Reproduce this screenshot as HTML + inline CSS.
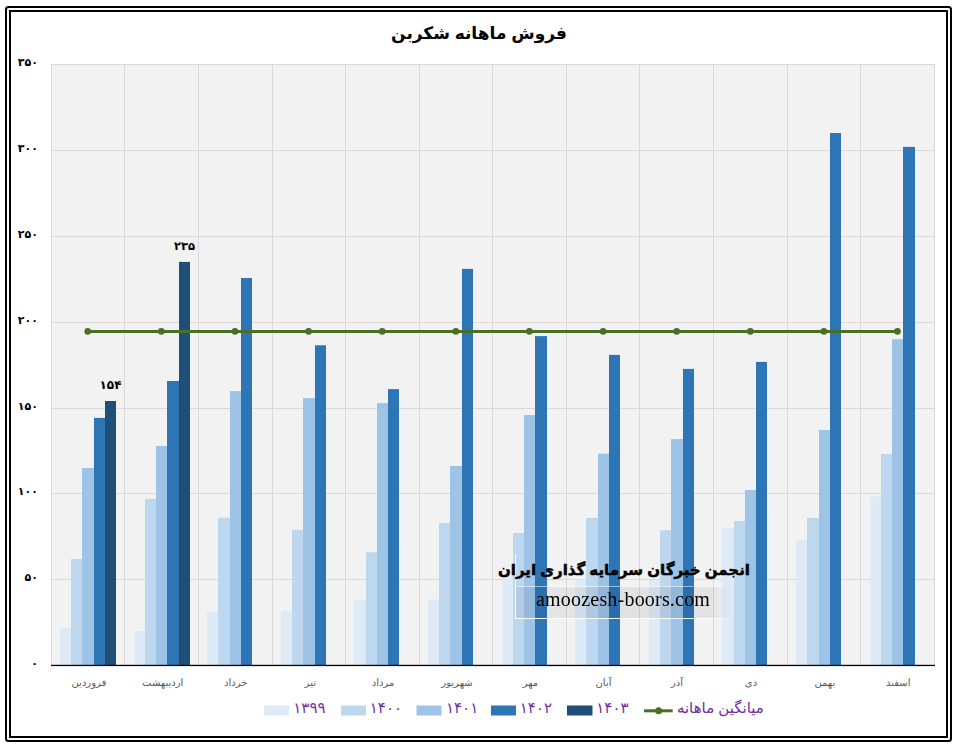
<!DOCTYPE html>
<html lang="fa"><head><meta charset="utf-8"><title>فروش ماهانه شکربن</title>
<style>html,body{margin:0;padding:0;background:#fff}body{width:955px;height:747px;overflow:hidden;font-family:"Liberation Sans",sans-serif}svg{display:block}body{position:relative}.wm{position:absolute;left:535.8px;top:585px;font-size:20px;line-height:28px;letter-spacing:0.2px;color:#000;white-space:nowrap;will-change:transform}.lat{font-family:"Liberation Serif",serif}svg text{font-family:"Liberation Sans","DejaVu Sans",sans-serif}</style></head>
<body>
<svg width="955" height="747" viewBox="0 0 955 747" role="img" aria-label="فروش ماهانه شکربن">
<rect width="955" height="747" fill="#fff"/>
<rect x="6" y="7" width="945" height="734" rx="2.5" fill="none" stroke="#000" stroke-width="2"/>
<rect x="10" y="11" width="937" height="726" fill="none" stroke="#000" stroke-width="2"/>
<g aria-label="فروش ماهانه شکربن"><text x="479" y="38.7" font-size="17" font-weight="bold" fill="#000" text-anchor="middle">فروش ماهانه شکربن</text></g>
<rect x="51" y="64" width="884" height="601" fill="#F2F2F2"/>
<path d="M51 579.5H935M51 493.5H935M51 408.5H935M51 322.5H935M51 236.5H935M51 150.5H935M51 64.5H935M51.5 64V665M124.5 64V665M198.5 64V665M272.5 64V665M345.5 64V665M419.5 64V665M492.5 64V665M566.5 64V665M639.5 64V665M713.5 64V665M787.5 64V665M860.5 64V665M934.5 64V665" stroke="#D9D9D9" stroke-width="1" fill="none"/>
<rect x="60" y="627.9" width="11" height="37.1" fill="#DEEBF7"/><rect x="71" y="559.0" width="11" height="106.0" fill="#BDD7EE"/><rect x="82" y="468.0" width="12" height="197.0" fill="#9DC3E6"/><rect x="94" y="417.9" width="11" height="247.1" fill="#2E75B6"/><rect x="105" y="401.0" width="11" height="264.0" fill="#1F4E79"/>
<rect x="134" y="631.0" width="11" height="34.0" fill="#DEEBF7"/><rect x="145" y="498.9" width="11" height="166.1" fill="#BDD7EE"/><rect x="156" y="445.9" width="11" height="219.1" fill="#9DC3E6"/><rect x="167" y="381.0" width="12" height="284.0" fill="#2E75B6"/><rect x="179" y="261.9" width="11" height="403.1" fill="#1F4E79"/>
<rect x="207" y="611.6" width="11" height="53.4" fill="#DEEBF7"/><rect x="218" y="517.7" width="12" height="147.3" fill="#BDD7EE"/><rect x="230" y="391.1" width="11" height="273.9" fill="#9DC3E6"/><rect x="241" y="278.0" width="11" height="387.0" fill="#2E75B6"/>
<rect x="281" y="611.0" width="11" height="54.0" fill="#DEEBF7"/><rect x="292" y="529.8" width="11" height="135.2" fill="#BDD7EE"/><rect x="303" y="398.1" width="12" height="266.9" fill="#9DC3E6"/><rect x="315" y="345.3" width="11" height="319.7" fill="#2E75B6"/>
<rect x="354" y="599.7" width="12" height="65.3" fill="#DEEBF7"/><rect x="366" y="552.2" width="11" height="112.8" fill="#BDD7EE"/><rect x="377" y="403.1" width="11" height="261.9" fill="#9DC3E6"/><rect x="388" y="389.1" width="11" height="275.9" fill="#2E75B6"/>
<rect x="428" y="599.7" width="11" height="65.3" fill="#DEEBF7"/><rect x="439" y="523.0" width="11" height="142.0" fill="#BDD7EE"/><rect x="450" y="466.0" width="12" height="199.0" fill="#9DC3E6"/><rect x="462" y="268.9" width="11" height="396.1" fill="#2E75B6"/>
<rect x="502" y="575.1" width="11" height="89.9" fill="#DEEBF7"/><rect x="513" y="533.0" width="11" height="132.0" fill="#BDD7EE"/><rect x="524" y="415.0" width="11" height="250.0" fill="#9DC3E6"/><rect x="535" y="336.1" width="12" height="328.9" fill="#2E75B6"/>
<rect x="575" y="579.6" width="11" height="85.4" fill="#DEEBF7"/><rect x="586" y="517.9" width="12" height="147.1" fill="#BDD7EE"/><rect x="598" y="453.7" width="11" height="211.3" fill="#9DC3E6"/><rect x="609" y="354.9" width="11" height="310.1" fill="#2E75B6"/>
<rect x="649" y="579.9" width="11" height="85.1" fill="#DEEBF7"/><rect x="660" y="530.2" width="11" height="134.8" fill="#BDD7EE"/><rect x="671" y="439.1" width="12" height="225.9" fill="#9DC3E6"/><rect x="683" y="368.9" width="11" height="296.1" fill="#2E75B6"/>
<rect x="722" y="527.8" width="12" height="137.2" fill="#DEEBF7"/><rect x="734" y="521.0" width="11" height="144.0" fill="#BDD7EE"/><rect x="745" y="490.0" width="11" height="175.0" fill="#9DC3E6"/><rect x="756" y="361.9" width="11" height="303.1" fill="#2E75B6"/>
<rect x="796" y="539.9" width="11" height="125.1" fill="#DEEBF7"/><rect x="807" y="518.0" width="12" height="147.0" fill="#BDD7EE"/><rect x="819" y="430.1" width="11" height="234.9" fill="#9DC3E6"/><rect x="830" y="133.0" width="11" height="532.0" fill="#2E75B6"/>
<rect x="870" y="496.4" width="11" height="168.6" fill="#DEEBF7"/><rect x="881" y="454.0" width="11" height="211.0" fill="#BDD7EE"/><rect x="892" y="339.2" width="11" height="325.8" fill="#9DC3E6"/><rect x="903" y="146.9" width="12" height="518.1" fill="#2E75B6"/>
<rect x="51" y="664.8" width="884" height="1.3" fill="#000"/>
<path d="M87.7 331.4H897.5" stroke="#4A7028" stroke-width="3" fill="none"/>
<g fill="#4A7028"><circle cx="87.7" cy="331.4" r="3.3"/><circle cx="161.3" cy="331.4" r="3.3"/><circle cx="235.0" cy="331.4" r="3.3"/><circle cx="308.6" cy="331.4" r="3.3"/><circle cx="382.2" cy="331.4" r="3.3"/><circle cx="455.8" cy="331.4" r="3.3"/><circle cx="529.4" cy="331.4" r="3.3"/><circle cx="603.1" cy="331.4" r="3.3"/><circle cx="676.7" cy="331.4" r="3.3"/><circle cx="750.3" cy="331.4" r="3.3"/><circle cx="823.9" cy="331.4" r="3.3"/><circle cx="897.5" cy="331.4" r="3.3"/></g>
<g fill="#000" font-size="11" font-weight="bold" text-anchor="end"><text x="38" y="667">۰</text><text x="38" y="581">۵۰</text><text x="38" y="495">۱۰۰</text><text x="38" y="410">۱۵۰</text><text x="38" y="324">۲۰۰</text><text x="38" y="238">۲۵۰</text><text x="38" y="152">۳۰۰</text><text x="38" y="66">۳۵۰</text></g>
<g fill="#000" font-weight="bold" text-anchor="middle"><text x="110.5" y="389.3" font-size="12">۱۵۴</text><text x="184.5" y="250.3" font-size="11.5">۲۳۵</text></g>
<g fill="#595959" font-size="10" text-anchor="middle"><text x="88.9" y="686">فروردین</text><text x="162.7" y="686">اردیبهشت</text><text x="235.7" y="686">خرداد</text><text x="310.3" y="686">تیر</text><text x="383.1" y="686">مرداد</text><text x="457" y="686">شهریور</text><text x="530.4" y="686">مهر</text><text x="603.5" y="686">آبان</text><text x="677" y="686">آذر</text><text x="751" y="686">دی</text><text x="824.8" y="686">بهمن</text><text x="898.2" y="686">اسفند</text></g>
<rect x="264" y="705.5" width="25" height="10" fill="#DEEBF7"/><rect x="341" y="705.5" width="25" height="10" fill="#BDD7EE"/><rect x="416.5" y="705.5" width="25.0" height="10" fill="#9DC3E6"/><rect x="491" y="705.5" width="25" height="10" fill="#2E75B6"/><rect x="567" y="705.5" width="25.5" height="10" fill="#1F4E79"/>
<g fill="#7030A0" font-size="15"><text x="293.3" y="713.3">۱۳۹۹</text><text x="369.8" y="713.3">۱۴۰۰</text><text x="446" y="713.3">۱۴۰۱</text><text x="519.8" y="713.3">۱۴۰۲</text><text x="596.3" y="713.3">۱۴۰۳</text><g aria-label="میانگین ماهانه"><text x="720.4" y="713.4" text-anchor="middle">میانگین ماهانه</text></g></g>
<path d="M644 710.8H672.7" stroke="#4A7028" stroke-width="3"/><circle cx="658.6" cy="710.8" r="3.5" fill="#4A7028"/>
<defs><linearGradient id="wg" x1="0" x2="1" y1="0" y2="0"><stop offset="0" stop-color="#000" stop-opacity="0.05"/><stop offset="0.5" stop-color="#000" stop-opacity="0.07"/><stop offset="0.9" stop-color="#000" stop-opacity="0.06"/><stop offset="1" stop-color="#000" stop-opacity="0"/></linearGradient><linearGradient id="wl" x1="0" x2="1"><stop offset="0" stop-color="#fff" stop-opacity="1"/><stop offset="0.9" stop-color="#fff" stop-opacity="0.9"/><stop offset="1" stop-color="#fff" stop-opacity="0"/></linearGradient></defs>
<rect x="516" y="587" width="216" height="31" fill="url(#wg)"/>
<rect x="515" y="554.5" width="1" height="64" fill="#fff"/><rect x="515" y="618" width="218" height="1" fill="url(#wl)"/><rect x="516" y="586" width="212" height="1" fill="url(#wl)" opacity="0.55"/>
<g fill="#000" stroke="#000" stroke-width="0.5" stroke-linejoin="round" aria-label="انجمن خبرگان سرمایه گذاری ایران"><text x="624" y="574.6" font-size="15" font-weight="bold" text-anchor="middle">انجمن خبرگان سرمایه گذاری ایران</text></g>
</svg>
<div class="lat wm">amoozesh-boors.com</div>
</body></html>
